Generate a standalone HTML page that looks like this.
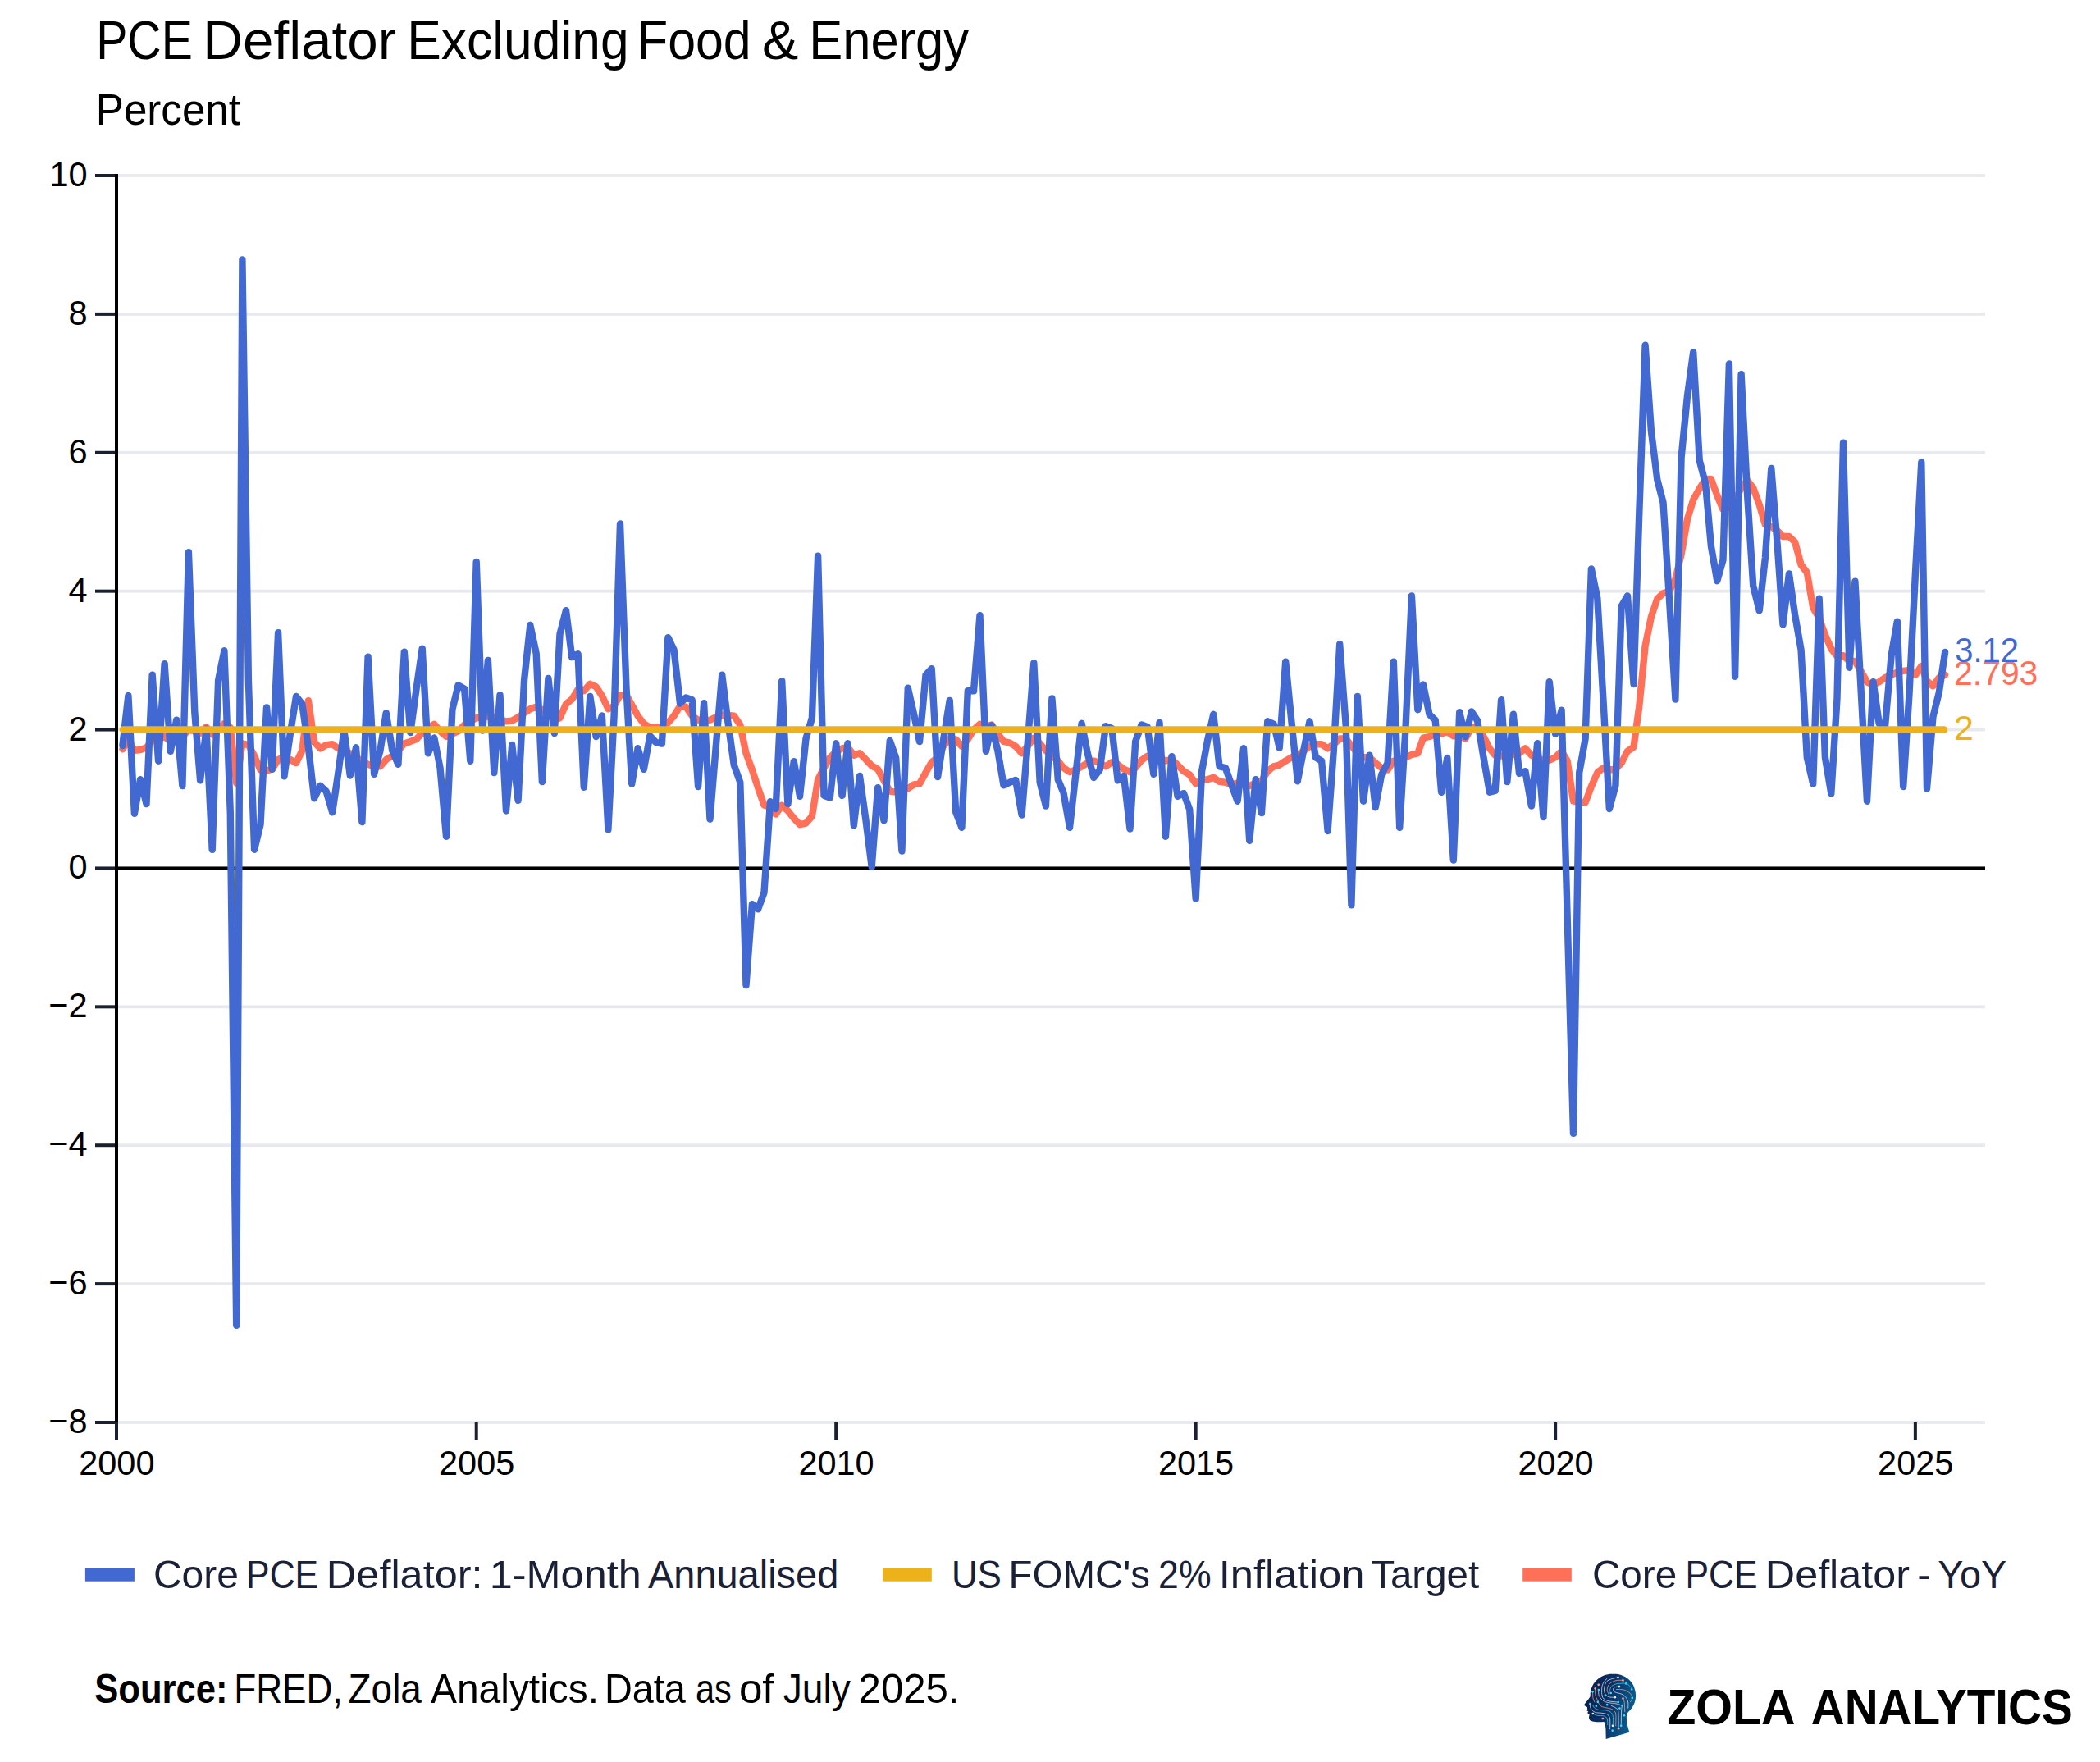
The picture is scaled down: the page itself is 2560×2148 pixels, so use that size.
<!DOCTYPE html><html><head><meta charset="utf-8"><title>PCE Deflator Excluding Food &amp; Energy</title>
<style>html,body{margin:0;padding:0;background:#fff}svg{display:block}text{font-family:"Liberation Sans",sans-serif}</style></head><body>
<svg width="2560" height="2148" viewBox="0 0 2560 2148">
<rect width="2560" height="2148" fill="#fff"/>
<text y="72.00" font-size="66.2" fill="#000"><tspan x="117.20" textLength="117.60" lengthAdjust="spacingAndGlyphs">PCE</tspan> <tspan x="247.30" textLength="235.92" lengthAdjust="spacingAndGlyphs">Deflator</tspan> <tspan x="496.20" textLength="270.50" lengthAdjust="spacingAndGlyphs">Excluding</tspan> <tspan x="776.98" textLength="138.72" lengthAdjust="spacingAndGlyphs">Food</tspan> <tspan x="928.90" textLength="44.32" lengthAdjust="spacingAndGlyphs">&amp;</tspan> <tspan x="986.20" textLength="194.90" lengthAdjust="spacingAndGlyphs">Energy</tspan></text>
<text y="152.00" font-size="53.7" fill="#000"><tspan x="116.82" textLength="176.12" lengthAdjust="spacingAndGlyphs">Percent</tspan></text>
<rect x="144" y="1732.10" width="2276" height="3.8" fill="#e8e9ec"/>
<rect x="144" y="1563.21" width="2276" height="3.8" fill="#e8e9ec"/>
<rect x="144" y="1394.32" width="2276" height="3.8" fill="#e8e9ec"/>
<rect x="144" y="1225.43" width="2276" height="3.8" fill="#e8e9ec"/>
<rect x="144" y="887.66" width="2276" height="3.8" fill="#e8e9ec"/>
<rect x="144" y="718.77" width="2276" height="3.8" fill="#e8e9ec"/>
<rect x="144" y="549.88" width="2276" height="3.8" fill="#e8e9ec"/>
<rect x="144" y="380.99" width="2276" height="3.8" fill="#e8e9ec"/>
<rect x="144" y="212.10" width="2276" height="3.8" fill="#e8e9ec"/>
<rect x="116" y="1732.00" width="26" height="4" fill="#1a2030"/>
<text x="59.3" y="1746.9" font-size="43" fill="#000" textLength="47.3" lengthAdjust="spacingAndGlyphs">−8</text>
<rect x="116" y="1563.11" width="26" height="4" fill="#1a2030"/>
<text x="59.3" y="1578.0" font-size="43" fill="#000" textLength="47.3" lengthAdjust="spacingAndGlyphs">−6</text>
<rect x="116" y="1394.22" width="26" height="4" fill="#1a2030"/>
<text x="59.3" y="1409.1" font-size="43" fill="#000" textLength="47.3" lengthAdjust="spacingAndGlyphs">−4</text>
<rect x="116" y="1225.33" width="26" height="4" fill="#1a2030"/>
<text x="59.3" y="1240.2" font-size="43" fill="#000" textLength="47.3" lengthAdjust="spacingAndGlyphs">−2</text>
<rect x="116" y="1056.44" width="26" height="4" fill="#1a2030"/>
<text x="83.5" y="1071.3" font-size="43" fill="#000" textLength="23.1" lengthAdjust="spacingAndGlyphs">0</text>
<rect x="116" y="887.56" width="26" height="4" fill="#1a2030"/>
<text x="83.5" y="902.5" font-size="43" fill="#000" textLength="23.1" lengthAdjust="spacingAndGlyphs">2</text>
<rect x="116" y="718.67" width="26" height="4" fill="#1a2030"/>
<text x="83.5" y="733.6" font-size="43" fill="#000" textLength="23.1" lengthAdjust="spacingAndGlyphs">4</text>
<rect x="116" y="549.78" width="26" height="4" fill="#1a2030"/>
<text x="83.5" y="564.7" font-size="43" fill="#000" textLength="23.1" lengthAdjust="spacingAndGlyphs">6</text>
<rect x="116" y="380.89" width="26" height="4" fill="#1a2030"/>
<text x="83.5" y="395.8" font-size="43" fill="#000" textLength="23.1" lengthAdjust="spacingAndGlyphs">8</text>
<rect x="116" y="212.00" width="26" height="4" fill="#1a2030"/>
<text x="60.4" y="226.9" font-size="43" fill="#000" textLength="46.2" lengthAdjust="spacingAndGlyphs">10</text>
<rect x="140.00" y="1734" width="4" height="22" fill="#1a2030"/>
<text x="96.2" y="1798.4" font-size="43" fill="#000" textLength="92.3" lengthAdjust="spacingAndGlyphs">2000</text>
<rect x="578.72" y="1734" width="4" height="22" fill="#1a2030"/>
<text x="535.0" y="1798.4" font-size="43" fill="#000" textLength="92.3" lengthAdjust="spacingAndGlyphs">2005</text>
<rect x="1017.19" y="1734" width="4" height="22" fill="#1a2030"/>
<text x="973.4" y="1798.4" font-size="43" fill="#000" textLength="92.3" lengthAdjust="spacingAndGlyphs">2010</text>
<rect x="1455.67" y="1734" width="4" height="22" fill="#1a2030"/>
<text x="1411.9" y="1798.4" font-size="43" fill="#000" textLength="92.3" lengthAdjust="spacingAndGlyphs">2015</text>
<rect x="1894.15" y="1734" width="4" height="22" fill="#1a2030"/>
<text x="1850.4" y="1798.4" font-size="43" fill="#000" textLength="92.3" lengthAdjust="spacingAndGlyphs">2020</text>
<rect x="2332.87" y="1734" width="4" height="22" fill="#1a2030"/>
<text x="2289.1" y="1798.4" font-size="43" fill="#000" textLength="92.3" lengthAdjust="spacingAndGlyphs">2025</text>
<rect x="140" y="212" width="4" height="1522" fill="#000"/>
<rect x="142" y="1056.44" width="2278" height="4" fill="#000"/>
<path d="M149.4,913.2 L156.4,902.2 L163.9,914.9 L171.1,914.0 L178.5,911.5 L185.7,902.2 L193.1,901.4 L200.6,898.0 L207.8,903.9 L215.2,902.2 L222.4,898.0 L229.9,889.6 L237.3,891.2 L244.1,893.8 L251.5,886.2 L258.7,895.5 L266.1,889.6 L273.4,882.0 L280.8,887.0 L288.2,954.6 L295.4,906.4 L302.9,908.1 L310.1,921.6 L317.5,938.5 L325.0,939.4 L331.7,937.7 L339.1,925.9 L346.4,923.3 L353.8,925.9 L361.0,930.1 L368.4,914.9 L375.9,854.1 L383.1,904.8 L390.5,912.4 L397.7,908.1 L405.2,907.3 L412.6,912.4 L419.4,914.9 L426.8,918.3 L434.0,923.3 L441.4,927.6 L448.6,931.8 L456.1,934.3 L463.5,934.3 L470.7,925.9 L478.2,921.6 L485.4,914.9 L492.8,906.4 L500.3,903.9 L507.2,901.4 L514.7,893.8 L521.9,887.0 L529.3,882.8 L536.5,891.2 L544.0,898.0 L551.4,894.6 L558.6,891.2 L566.1,883.6 L573.3,879.4 L580.7,875.2 L588.2,874.4 L594.9,873.5 L602.3,874.4 L609.5,876.9 L617.0,879.4 L624.2,878.6 L631.6,874.4 L639.1,869.3 L646.3,864.2 L653.7,861.7 L660.9,865.1 L668.4,871.0 L675.8,877.7 L682.5,875.2 L690.0,858.3 L697.2,852.4 L704.6,840.6 L711.8,842.3 L719.3,833.8 L726.7,837.2 L733.9,848.2 L741.4,864.2 L748.6,860.8 L756.0,847.3 L763.5,847.3 L770.2,859.2 L777.6,872.7 L784.8,882.0 L792.3,887.0 L799.5,886.2 L806.9,887.9 L814.4,881.1 L821.6,872.7 L829.0,860.8 L836.2,861.7 L843.7,872.7 L851.1,877.7 L858.1,878.6 L865.5,877.7 L872.7,874.4 L880.2,871.8 L887.4,871.8 L894.8,872.7 L902.3,883.6 L909.5,918.3 L916.9,938.5 L924.1,960.5 L931.5,981.6 L939.0,984.1 L945.7,992.6 L953.2,981.6 L960.4,988.4 L967.8,997.6 L975.0,1005.2 L982.5,1003.6 L989.9,995.1 L997.1,950.4 L1004.5,936.0 L1011.8,923.3 L1019.2,916.6 L1026.6,912.4 L1033.4,910.7 L1040.8,920.8 L1048.0,918.3 L1055.5,925.9 L1062.7,933.5 L1070.1,937.7 L1077.5,951.2 L1084.8,964.7 L1092.2,965.6 L1099.4,963.9 L1106.8,961.3 L1114.3,956.3 L1121.0,955.4 L1128.5,941.9 L1135.7,929.2 L1143.1,923.3 L1150.3,909.0 L1157.7,900.5 L1165.2,901.4 L1172.4,909.8 L1179.8,901.4 L1187.0,889.6 L1194.5,882.8 L1201.9,885.3 L1208.9,883.6 L1216.3,894.6 L1223.5,903.9 L1231.0,905.6 L1238.2,909.8 L1245.6,918.3 L1253.1,909.0 L1260.3,899.7 L1267.7,906.4 L1274.9,914.9 L1282.4,921.6 L1289.8,927.6 L1296.5,936.0 L1304.0,941.1 L1311.2,938.5 L1318.6,934.3 L1325.8,930.1 L1333.3,927.6 L1340.7,930.1 L1347.9,934.3 L1355.4,929.2 L1362.6,931.8 L1370.0,937.7 L1377.5,941.1 L1384.2,936.0 L1391.6,926.7 L1398.8,921.6 L1406.3,923.3 L1413.5,923.3 L1420.9,927.6 L1428.4,925.9 L1435.6,932.6 L1443.0,940.2 L1450.2,944.4 L1457.7,955.4 L1465.1,950.4 L1471.8,950.4 L1479.3,947.8 L1486.5,952.9 L1493.9,953.7 L1501.1,956.3 L1508.6,954.6 L1516.0,957.1 L1523.2,958.0 L1530.7,954.6 L1537.9,952.0 L1545.3,940.2 L1552.8,934.3 L1559.7,932.6 L1567.2,927.6 L1574.4,923.3 L1581.8,920.8 L1589.0,915.7 L1596.5,909.8 L1603.9,907.3 L1611.1,907.3 L1618.6,912.4 L1625.8,907.3 L1633.2,900.5 L1640.7,900.5 L1647.4,909.0 L1654.8,918.3 L1662.0,923.3 L1669.5,923.3 L1676.7,930.1 L1684.1,936.0 L1691.6,938.5 L1698.8,927.6 L1706.2,926.7 L1713.4,923.3 L1720.9,920.0 L1728.3,918.3 L1735.0,899.7 L1742.5,898.0 L1749.7,895.5 L1757.1,894.6 L1764.3,892.1 L1771.8,897.2 L1779.2,897.2 L1786.4,900.5 L1793.9,887.0 L1801.1,885.3 L1808.5,898.0 L1815.9,912.4 L1822.7,920.8 L1830.1,921.6 L1837.3,920.8 L1844.8,920.0 L1852.0,918.3 L1859.4,912.4 L1866.9,920.8 L1874.1,923.3 L1881.5,927.6 L1888.7,926.7 L1896.1,923.3 L1903.6,915.7 L1910.6,927.6 L1918.0,976.5 L1925.2,978.2 L1932.6,978.2 L1939.9,958.8 L1947.3,941.9 L1954.7,936.0 L1961.9,938.5 L1969.4,937.7 L1976.6,930.1 L1984.0,915.7 L1991.5,910.7 L1998.2,861.7 L2005.6,787.4 L2012.9,751.9 L2020.3,730.0 L2027.5,723.2 L2034.9,720.7 L2042.4,706.3 L2049.6,675.9 L2057.0,632.8 L2064.2,609.2 L2071.7,595.7 L2079.1,583.9 L2085.9,583.9 L2093.3,604.1 L2100.5,621.0 L2107.9,618.5 L2115.1,610.9 L2122.6,594.8 L2130.0,585.6 L2137.2,594.8 L2144.7,615.1 L2151.9,639.6 L2159.3,642.1 L2166.8,647.2 L2173.5,654.0 L2180.9,654.0 L2188.1,660.7 L2195.6,688.6 L2202.8,697.9 L2210.2,740.9 L2217.7,753.6 L2224.9,773.9 L2232.3,790.8 L2239.5,800.0 L2247.0,799.2 L2254.4,806.0 L2261.4,806.0 L2268.8,818.6 L2276.0,831.3 L2283.5,834.7 L2290.7,831.3 L2298.1,826.2 L2305.6,822.8 L2312.8,819.5 L2320.2,817.8 L2327.4,816.9 L2334.9,822.8 L2342.3,811.9 L2349.0,830.4 L2356.5,836.4 L2363.7,826.2 L2371.1,822.6" fill="none" stroke="#ff7059" stroke-width="8.4" stroke-linejoin="round" stroke-linecap="round"/>
<path d="M149.4,909.0 L156.4,848.0 L163.9,991.9 L171.1,950.2 L178.5,980.1 L185.7,822.7 L193.1,927.7 L200.6,809.2 L207.8,915.9 L215.2,877.6 L222.4,958.1 L229.9,673.2 L237.3,868.4 L244.1,951.4 L251.5,888.5 L258.7,1035.8 L266.1,829.6 L273.4,793.3 L280.8,990.9 L288.2,1615.8 L295.4,316.4 L302.9,830.4 L310.1,1035.8 L317.5,1005.2 L325.0,862.4 L331.7,937.9 L339.1,771.2 L346.4,946.3 L353.8,894.6 L361.0,848.9 L368.4,858.3 L375.9,910.7 L383.1,973.3 L390.5,957.8 L397.7,964.7 L405.2,990.2 L412.6,940.2 L419.4,890.2 L426.8,945.5 L434.0,911.3 L441.4,1002.0 L448.6,800.7 L456.1,943.8 L463.5,914.9 L470.7,869.1 L478.2,914.9 L485.4,931.9 L492.8,794.8 L500.3,893.1 L507.2,842.3 L514.7,790.6 L521.9,918.4 L529.3,899.5 L536.5,936.0 L544.0,1019.8 L551.4,865.1 L558.6,835.3 L566.1,839.7 L573.3,927.7 L580.7,685.0 L588.2,890.6 L594.9,804.9 L602.3,942.1 L609.5,847.2 L617.0,988.5 L624.2,908.0 L631.6,975.9 L639.1,828.8 L646.3,761.9 L653.7,796.7 L660.9,953.1 L668.4,826.9 L675.8,893.9 L682.5,773.0 L690.0,744.1 L697.2,801.1 L704.6,797.3 L711.8,959.8 L719.3,848.9 L726.7,898.2 L733.9,872.5 L741.4,1011.3 L748.6,872.7 L756.0,638.5 L763.5,838.9 L770.2,955.6 L777.6,912.2 L784.8,937.9 L792.3,897.0 L799.5,904.8 L806.9,906.6 L814.4,777.1 L821.6,792.4 L829.0,857.6 L836.2,850.5 L843.7,853.2 L851.1,959.0 L858.1,857.3 L865.5,998.7 L872.7,910.7 L880.2,822.7 L887.4,880.3 L894.8,932.6 L902.3,953.7 L909.5,1201.2 L916.9,1102.2 L924.1,1108.4 L931.5,1088.0 L939.0,977.2 L945.7,986.0 L953.2,830.3 L960.4,980.1 L967.8,928.2 L975.0,970.8 L982.5,900.5 L989.9,875.2 L997.1,677.7 L1004.5,969.8 L1011.8,972.5 L1019.2,906.3 L1026.6,969.9 L1033.4,906.3 L1040.8,1006.3 L1048.0,946.0 L1055.5,1000.2 L1062.7,1056.9 L1070.1,960.3 L1077.5,1000.3 L1084.8,902.9 L1092.2,924.2 L1099.4,1037.5 L1106.8,838.7 L1114.3,871.8 L1121.0,904.1 L1128.5,822.8 L1135.7,815.1 L1143.1,947.1 L1150.3,900.5 L1157.7,853.9 L1165.2,990.0 L1172.4,1008.8 L1179.8,842.3 L1187.0,842.3 L1194.5,750.1 L1201.9,915.9 L1208.9,884.3 L1216.3,914.9 L1223.5,957.3 L1231.0,953.7 L1238.2,951.0 L1245.6,993.6 L1253.1,901.4 L1260.3,808.3 L1267.7,953.7 L1274.9,982.6 L1282.4,851.4 L1289.8,950.4 L1296.5,966.4 L1304.0,1008.8 L1311.2,945.3 L1318.6,881.8 L1325.8,918.3 L1333.3,948.0 L1340.7,938.5 L1347.9,885.2 L1355.4,887.9 L1362.6,951.4 L1370.0,946.0 L1377.5,1010.5 L1384.2,903.9 L1391.6,883.5 L1398.8,886.2 L1406.3,943.8 L1413.5,880.9 L1420.9,1019.8 L1428.4,922.3 L1435.6,970.8 L1443.0,967.1 L1450.2,986.7 L1457.7,1095.8 L1465.1,940.2 L1471.8,903.9 L1479.3,870.8 L1486.5,934.3 L1493.9,936.0 L1501.1,956.3 L1508.6,976.7 L1516.0,912.2 L1523.2,1024.8 L1530.7,950.2 L1537.9,991.1 L1545.3,879.3 L1552.8,882.8 L1559.7,911.7 L1567.2,806.6 L1574.4,879.4 L1581.8,952.2 L1589.0,915.7 L1596.5,879.3 L1603.9,923.3 L1611.1,927.6 L1618.6,1013.0 L1625.8,914.9 L1633.2,785.2 L1640.7,884.5 L1647.4,1103.4 L1654.8,848.9 L1662.0,976.7 L1669.5,920.6 L1676.7,984.3 L1684.1,944.4 L1691.6,930.1 L1698.8,806.6 L1706.2,1008.8 L1713.4,889.6 L1720.9,726.4 L1728.3,865.2 L1735.0,834.5 L1742.5,871.0 L1749.7,877.7 L1757.1,965.7 L1764.3,924.0 L1771.8,1048.5 L1779.2,868.3 L1786.4,898.2 L1793.9,867.4 L1801.1,878.6 L1808.5,923.3 L1815.9,965.7 L1822.7,963.9 L1830.1,853.1 L1837.3,953.1 L1844.8,870.8 L1852.0,942.9 L1859.4,940.1 L1866.9,982.6 L1874.1,906.3 L1881.5,996.1 L1888.7,831.1 L1896.1,894.8 L1903.6,865.7 L1910.6,1115.9 L1918.0,1381.9 L1925.2,941.9 L1932.6,900.5 L1939.9,693.5 L1947.3,729.1 L1954.7,857.5 L1961.9,986.0 L1969.4,958.0 L1976.6,739.2 L1984.0,726.4 L1991.5,834.0 L1998.2,627.8 L2005.6,420.8 L2012.9,525.6 L2020.3,584.7 L2027.5,612.6 L2034.9,729.1 L2042.4,852.6 L2049.6,557.7 L2057.0,482.5 L2064.2,429.3 L2071.7,561.1 L2079.1,589.8 L2085.9,665.8 L2093.3,708.2 L2100.5,682.7 L2107.9,443.5 L2115.1,824.7 L2122.6,456.2 L2130.0,601.6 L2137.2,713.9 L2144.7,744.5 L2151.9,680.1 L2159.3,571.0 L2166.8,665.8 L2173.5,761.4 L2180.9,699.4 L2188.1,749.4 L2195.6,792.4 L2202.8,923.3 L2210.2,955.6 L2217.7,729.8 L2224.9,923.3 L2232.3,967.4 L2239.5,851.6 L2247.0,539.8 L2254.4,813.7 L2261.4,708.7 L2268.8,844.8 L2276.0,976.7 L2283.5,831.1 L2290.7,882.0 L2298.1,884.7 L2305.6,799.2 L2312.8,757.7 L2320.2,959.0 L2327.4,847.3 L2334.9,699.6 L2342.3,563.4 L2349.0,961.5 L2356.5,873.5 L2363.7,844.8 L2371.1,795.0" fill="none" stroke="#4169d1" stroke-width="8.4" stroke-linejoin="round" stroke-linecap="round"/>
<path d="M149.9,889.6 L2370.1,889.6" fill="none" stroke="#edb11a" stroke-width="8.5" stroke-linecap="round"/>
<text x="2382.10" y="835.20" font-size="43" fill="#ff7059" textLength="102.26" lengthAdjust="spacingAndGlyphs">2.793</text>
<text x="2383.36" y="807.40" font-size="43" fill="#4169d1" textLength="77.54" lengthAdjust="spacingAndGlyphs">3.12</text>
<text x="2382.10" y="901.90" font-size="43" fill="#edb11a" textLength="23.90" lengthAdjust="spacingAndGlyphs">2</text>
<rect x="103.9" y="1912" width="60" height="15.7" fill="#4169d1"/>
<rect x="1076.2" y="1912" width="59.6" height="15.7" fill="#edb11a"/>
<rect x="1856.2" y="1912" width="59.6" height="15.7" fill="#ff7059"/>
<text y="1935.60" font-size="49" fill="#1a2036"><tspan x="186.90" textLength="104.00" lengthAdjust="spacingAndGlyphs">Core</tspan> <tspan x="300.10" textLength="88.02" lengthAdjust="spacingAndGlyphs">PCE</tspan> <tspan x="397.88" textLength="190.72" lengthAdjust="spacingAndGlyphs">Deflator:</tspan> <tspan x="596.82" textLength="184.88" lengthAdjust="spacingAndGlyphs">1-Month</tspan> <tspan x="789.98" textLength="232.32" lengthAdjust="spacingAndGlyphs">Annualised</tspan></text>
<text y="1935.60" font-size="49" fill="#1a2036"><tspan x="1159.88" textLength="61.08" lengthAdjust="spacingAndGlyphs">US</tspan> <tspan x="1229.54" textLength="172.58" lengthAdjust="spacingAndGlyphs">FOMC's</tspan> <tspan x="1412.12" textLength="64.44" lengthAdjust="spacingAndGlyphs">2%</tspan> <tspan x="1485.70" textLength="177.66" lengthAdjust="spacingAndGlyphs">Inflation</tspan> <tspan x="1671.24" textLength="131.92" lengthAdjust="spacingAndGlyphs">Target</tspan></text>
<text y="1935.60" font-size="49" fill="#1a2036"><tspan x="1940.90" textLength="103.28" lengthAdjust="spacingAndGlyphs">Core</tspan> <tspan x="2054.44" textLength="88.02" lengthAdjust="spacingAndGlyphs">PCE</tspan> <tspan x="2151.82" textLength="176.18" lengthAdjust="spacingAndGlyphs">Deflator</tspan> <tspan x="2337.34" textLength="16.90" lengthAdjust="spacingAndGlyphs">-</tspan> <tspan x="2362.24" textLength="84.04" lengthAdjust="spacingAndGlyphs">YoY</tspan></text>
<text y="2076.20" font-size="49.8" fill="#000"><tspan font-weight="bold" x="115.18" textLength="162.36" lengthAdjust="spacingAndGlyphs">Source:</tspan> <tspan x="285.22" textLength="132.54" lengthAdjust="spacingAndGlyphs">FRED,</tspan> <tspan x="424.58" textLength="89.30" lengthAdjust="spacingAndGlyphs">Zola</tspan> <tspan x="524.98" textLength="205.12" lengthAdjust="spacingAndGlyphs">Analytics.</tspan> <tspan x="736.88" textLength="98.94" lengthAdjust="spacingAndGlyphs">Data</tspan> <tspan x="847.96" textLength="43.94" lengthAdjust="spacingAndGlyphs">as</tspan> <tspan x="900.90" textLength="42.70" lengthAdjust="spacingAndGlyphs">of</tspan> <tspan x="954.64" textLength="82.24" lengthAdjust="spacingAndGlyphs">July</tspan> <tspan x="1046.62" textLength="122.92" lengthAdjust="spacingAndGlyphs">2025.</tspan></text>
<g transform="translate(1920,2030)">
<defs><linearGradient id="hg" x1="0" y1="0" x2="1" y2="0.3"><stop offset="0" stop-color="#081a45"/><stop offset="0.55" stop-color="#0b3066"/><stop offset="1" stop-color="#0a5a8e"/></linearGradient></defs>
<path d="M45.4,10.8 C50,10.6 53.5,11 56.8,12.2 C61,13.8 64.5,16 67,18.7 C69.8,21.6 71.6,24.8 72.6,28.4 C73.6,31.2 74.1,34 74.1,36.9 C74.1,40.6 73.4,44 72.1,47.1 C70.9,50 69.2,52.6 67,55 C65.6,56.4 64.2,57.6 63.6,59 C62.9,60.8 62.8,63 63,65.3 C63.2,68.2 63.6,71 64.1,73.8 C64.7,76.6 65.5,79.2 66.4,81.7 L37.7,90 C37.6,86.5 37.6,83 37.5,79.5 C37.4,77.2 37.3,75.2 36.9,73.2 C36.6,71.6 36.2,70 35.2,69 C31,69.4 26.8,69.4 22.7,68.7 C20.8,68.4 19.2,68 18.2,67 C17.4,66.2 17,65.2 17,64.1 C17,62.8 17.3,61.5 17.6,60.2 L15,57.9 L16.4,56.8 L13.9,54.8 L15.2,53.4 L14.8,51.1 L10.8,48.8 C11.8,47.2 13,45.8 14.2,44.3 C15.8,42.2 17.4,40.2 18.7,38 C18.6,35.9 18.7,33.8 19,31.8 C19.5,29.2 20.4,26.7 21.6,24.4 C23,21.8 24.9,19.6 27.2,17.6 C29.6,15.4 32.3,13.7 35.2,12.5 C38.4,11.3 41.8,10.8 45.4,10.8 Z" fill="url(#hg)"/>
<path d="M39.7,15.3 C38.8,16.5 35.2,20.1 34.0,22.7 C32.8,25.3 32.6,28.4 32.6,31.2 C32.6,34.0 32.6,37.6 34.0,39.7 C35.4,41.8 37.8,42.8 40.9,43.7 C44.0,44.6 50.8,44.9 52.8,45.1" fill="none" stroke="#e8f1f8" stroke-width="0.85" stroke-linecap="round" opacity="0.85"/>
<path d="M52.5,15.0 C51.3,15.2 47.7,15.7 45.4,16.5 C43.1,17.3 40.2,18.1 38.6,19.9 C37.0,21.7 36.2,24.8 35.8,27.2 C35.4,29.6 35.4,32.1 36.3,34.0 C37.1,35.9 38.8,37.7 40.9,38.6 C43.0,39.5 47.5,39.1 48.8,39.2" fill="none" stroke="#e8f1f8" stroke-width="0.85" stroke-linecap="round" opacity="0.85"/>
<path d="M58.5,18.4 C57.1,18.4 52.6,18.0 49.9,18.7 C47.1,19.4 43.8,20.9 42.0,22.7 C40.2,24.5 39.4,27.4 39.2,29.5 C39.0,31.6 40.6,34.2 40.9,35.2" fill="none" stroke="#f4a98a" stroke-width="0.85" stroke-linecap="round" opacity="0.85"/>
<path d="M69.2,29.5 C69.0,29.0 69.2,27.9 68.1,26.7 C67.0,25.5 65.2,23.1 62.4,22.4 C59.6,21.7 54.0,22.2 51.1,22.7 C48.2,23.2 46.2,24.2 44.8,25.5 C43.4,26.8 42.8,29.2 42.6,30.6 C42.4,32.0 43.5,33.4 43.7,34.0" fill="none" stroke="#3fd8f0" stroke-width="0.85" stroke-linecap="round" opacity="0.85"/>
<path d="M53.9,26.1 C53.0,26.2 50.0,26.1 48.8,26.7 C47.6,27.3 46.5,28.5 46.5,29.5 C46.5,30.5 47.1,31.9 48.8,32.9 C50.5,33.9 54.5,34.1 56.8,35.2 C59.1,36.3 61.1,38.0 62.4,39.7 C63.7,41.4 64.3,43.3 64.7,45.4 C65.1,47.5 64.7,51.1 64.7,52.2" fill="none" stroke="#e8f1f8" stroke-width="0.85" stroke-linecap="round" opacity="0.85"/>
<path d="M50.5,29.5 C52.0,29.6 56.9,29.3 59.6,30.1 C62.4,30.9 65.3,32.5 67.0,34.1 C68.7,35.7 69.7,37.9 69.8,39.7 C69.9,41.5 67.9,43.9 67.5,44.8" fill="none" stroke="#f4a98a" stroke-width="0.85" stroke-linecap="round" opacity="0.85"/>
<path d="M58.5,40.6 C58.8,41.4 59.8,42.7 60.2,45.4 C60.6,48.1 60.6,54.9 60.7,56.8" fill="none" stroke="#f4a98a" stroke-width="0.85" stroke-linecap="round" opacity="0.85"/>
<path d="M57.6,49.1 C57.4,50.2 56.8,51.9 56.6,56.0 C56.4,60.1 56.3,70.8 56.2,73.8" fill="none" stroke="#e8f1f8" stroke-width="0.85" stroke-linecap="round" opacity="0.85"/>
<path d="M44.3,49.4 C45.2,49.9 48.5,51.0 49.9,52.2 C51.3,53.4 52.3,52.6 52.8,56.8 C53.3,61.0 53.0,73.8 53.1,77.2" fill="none" stroke="#e8f1f8" stroke-width="0.85" stroke-linecap="round" opacity="0.85"/>
<path d="M27.8,44.8 C28.5,45.6 30.3,48.8 31.8,49.9 C33.3,51.0 34.8,51.0 36.9,51.6 C39.0,52.2 42.3,52.4 44.3,53.3 C46.3,54.2 47.9,55.3 48.8,56.8 C49.7,58.3 49.8,59.6 49.9,62.4 C50.0,65.2 49.7,71.9 49.7,73.8" fill="none" stroke="#f4a98a" stroke-width="0.85" stroke-linecap="round" opacity="0.85"/>
<path d="M21.6,48.2 C22.0,48.9 22.5,51.2 23.8,52.2 C25.1,53.2 27.0,54.0 29.5,54.5 C32.0,55.0 36.1,54.5 38.6,55.1 C41.1,55.7 43.0,56.5 44.3,57.9 C45.6,59.3 46.2,61.0 46.5,63.6 C46.8,66.2 46.1,72.1 46.0,73.8" fill="none" stroke="#3fd8f0" stroke-width="0.85" stroke-linecap="round" opacity="0.85"/>
<path d="M18.4,47.1 C18.5,48.0 18.3,51.1 19.3,52.8 C20.3,54.5 21.9,56.3 24.4,57.3 C26.9,58.2 31.6,58.0 34.1,58.5 C36.7,59.0 38.3,59.1 39.7,60.2 C41.1,61.3 42.1,62.4 42.6,65.3 C43.1,68.2 42.6,75.7 42.6,77.8" fill="none" stroke="#e8f1f8" stroke-width="0.85" stroke-linecap="round" opacity="0.85"/>
<path d="M21.9,59.0 C22.8,59.4 25.0,60.8 27.2,61.3 C29.4,61.8 33.2,61.2 35.2,61.9 C37.2,62.6 38.5,63.5 39.2,65.3 C40.0,67.1 39.6,71.4 39.7,72.6" fill="none" stroke="#3fd8f0" stroke-width="0.85" stroke-linecap="round" opacity="0.85"/>
<path d="M24.7,28.4 C24.8,29.8 24.4,34.2 25.0,36.9 C25.6,39.5 27.8,43.1 28.4,44.3" fill="none" stroke="#f4a98a" stroke-width="0.85" stroke-linecap="round" opacity="0.85"/>
<path d="M21.6,32.3 C21.7,33.5 21.5,37.6 21.9,39.7 C22.3,41.8 23.5,43.9 23.8,44.8" fill="none" stroke="#f4a98a" stroke-width="0.85" stroke-linecap="round" opacity="0.85"/>
<path d="M28.9,30.1 C28.9,31.2 28.3,34.7 29.2,36.9 C30.1,39.1 32.4,41.7 34.1,43.1 C35.9,44.5 36.9,44.7 39.7,45.4 C42.5,46.1 48.2,46.4 51.1,47.1 C54.0,47.8 56.3,49.0 57.3,49.4" fill="none" stroke="#e8f1f8" stroke-width="0.85" stroke-linecap="round" opacity="0.85"/>
<circle cx="52.8" cy="45.1" r="1.35" fill="#3fd8f0"/>
<circle cx="52.5" cy="15.0" r="1.35" fill="#e8f1f8"/>
<circle cx="48.8" cy="39.2" r="1.35" fill="#e8f1f8"/>
<circle cx="58.5" cy="18.4" r="1.35" fill="#f4a98a"/>
<circle cx="62.4" cy="22.4" r="1.35" fill="#3fd8f0"/>
<circle cx="69.2" cy="29.5" r="1.35" fill="#3fd8f0"/>
<circle cx="43.7" cy="34.0" r="1.35" fill="#3fd8f0"/>
<circle cx="53.9" cy="26.1" r="1.35" fill="#e8f1f8"/>
<circle cx="69.8" cy="39.9" r="1.35" fill="#3fd8f0"/>
<circle cx="58.5" cy="40.6" r="1.35" fill="#f4a98a"/>
<circle cx="57.6" cy="49.1" r="1.35" fill="#3fd8f0"/>
<circle cx="56.2" cy="73.8" r="1.35" fill="#3fd8f0"/>
<circle cx="53.1" cy="77.2" r="1.35" fill="#f4a98a"/>
<circle cx="27.8" cy="44.8" r="1.35" fill="#3fd8f0"/>
<circle cx="46.0" cy="73.8" r="1.35" fill="#e8f1f8"/>
<circle cx="18.4" cy="47.1" r="1.35" fill="#3fd8f0"/>
<circle cx="21.9" cy="59.0" r="1.35" fill="#e8f1f8"/>
<circle cx="24.7" cy="28.4" r="1.35" fill="#f4a98a"/>
<circle cx="21.6" cy="32.3" r="1.35" fill="#3fd8f0"/>
<circle cx="28.9" cy="30.1" r="1.35" fill="#3fd8f0"/>
<circle cx="28.7" cy="23.8" r="1.35" fill="#f4a98a"/>
<circle cx="33.8" cy="65.0" r="1.35" fill="#f4a98a"/>
<circle cx="45.7" cy="79.7" r="1.35" fill="#3fd8f0"/>
<circle cx="59.9" cy="61.3" r="1.35" fill="#3fd8f0"/>
<circle cx="39.2" cy="48.2" r="1.35" fill="#3fd8f0"/>
<circle cx="36.9" cy="36.9" r="1.35" fill="#3fd8f0"/>
<circle cx="25.8" cy="49.7" r="1.35" fill="#3fd8f0"/>
<circle cx="54.5" cy="52.5" r="1.35" fill="#3fd8f0"/>
</g>
<text y="2101.50" font-size="60.5" fill="#000" font-weight="bold"><tspan x="2032.18" textLength="154.30" lengthAdjust="spacingAndGlyphs">ZOLA</tspan> <tspan x="2207.80" textLength="318.94" lengthAdjust="spacingAndGlyphs">ANALYTICS</tspan></text>
</svg></body></html>
